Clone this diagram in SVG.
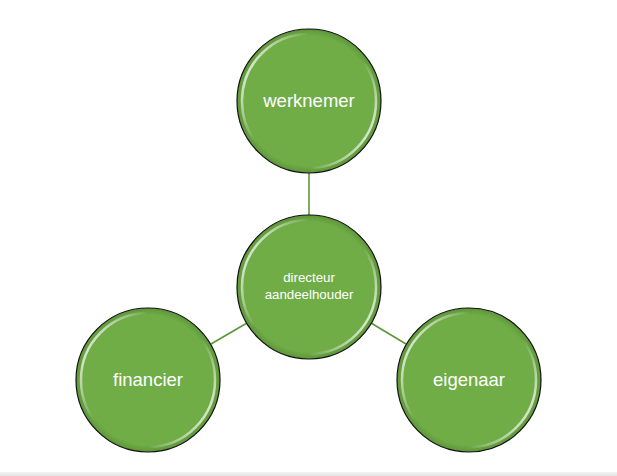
<svg xmlns="http://www.w3.org/2000/svg" width="617" height="476" viewBox="0 0 617 476">
<defs>
<radialGradient id="fill" cx="0.5" cy="0.5" r="0.5">
<stop offset="0" stop-color="#70AD47"/>
<stop offset="0.9" stop-color="#70AD47"/>
<stop offset="1" stop-color="#5E9639"/>
</radialGradient>
<linearGradient id="gloss" x1="0" y1="0.25" x2="1" y2="0.75">
<stop offset="0" stop-color="#fff" stop-opacity="0.85"/>
<stop offset="0.12" stop-color="#fff" stop-opacity="0.5"/>
<stop offset="0.3" stop-color="#fff" stop-opacity="0"/>
<stop offset="0.7" stop-color="#fff" stop-opacity="0"/>
<stop offset="0.88" stop-color="#fff" stop-opacity="0.5"/>
<stop offset="1" stop-color="#fff" stop-opacity="0.85"/>
</linearGradient>
<linearGradient id="bar" x1="0" y1="0" x2="0" y2="1">
<stop offset="0" stop-color="#f4f4f4"/>
<stop offset="1" stop-color="#e2e2e2"/>
</linearGradient>
</defs>
<style>
.ball{fill:url(#fill);stroke:#111;stroke-width:1.2}
.gl{fill:none;stroke:url(#gloss);stroke-width:2.5}
.t{fill:#fff;font-family:"Liberation Sans",Arial,sans-serif;text-anchor:middle}
.big{font-size:18.5px}
.small{font-size:13.3px}
.c{stroke:#5E9639;stroke-width:1.6;fill:none}
</style>
<rect x="0" y="0" width="617" height="476" fill="#fff"/>
<rect x="0" y="472" width="617" height="4" fill="url(#bar)"/>
<g id="connectors">
<line class="c" x1="309" y1="173" x2="309" y2="215"/>
<line class="c" x1="247" y1="323" x2="211" y2="344"/>
<line class="c" x1="371" y1="323" x2="406" y2="344"/>
</g>
<g id="werkneme">
<circle class="ball" cx="309" cy="101" r="72"/>
<circle class="gl" cx="309" cy="101" r="67"/>
<text class="t big" x="309" y="107">werknemer</text>
</g>
<g id="dga">
<circle class="ball" cx="309" cy="287" r="72"/>
<circle class="gl" cx="309" cy="287" r="67"/>
<text class="t small" x="309" y="282">directeur</text>
<text class="t small" x="309" y="299">aandeelhouder</text>
</g>
<g id="financier">
<circle class="ball" cx="148" cy="380" r="72"/>
<circle class="gl" cx="148" cy="380" r="67"/>
<text class="t big" x="148" y="386">financier</text>
</g>
<g id="eigenaar">
<circle class="ball" cx="469" cy="380" r="72"/>
<circle class="gl" cx="469" cy="380" r="67"/>
<text class="t big" x="469" y="386">eigenaar</text>
</g>
</svg>
